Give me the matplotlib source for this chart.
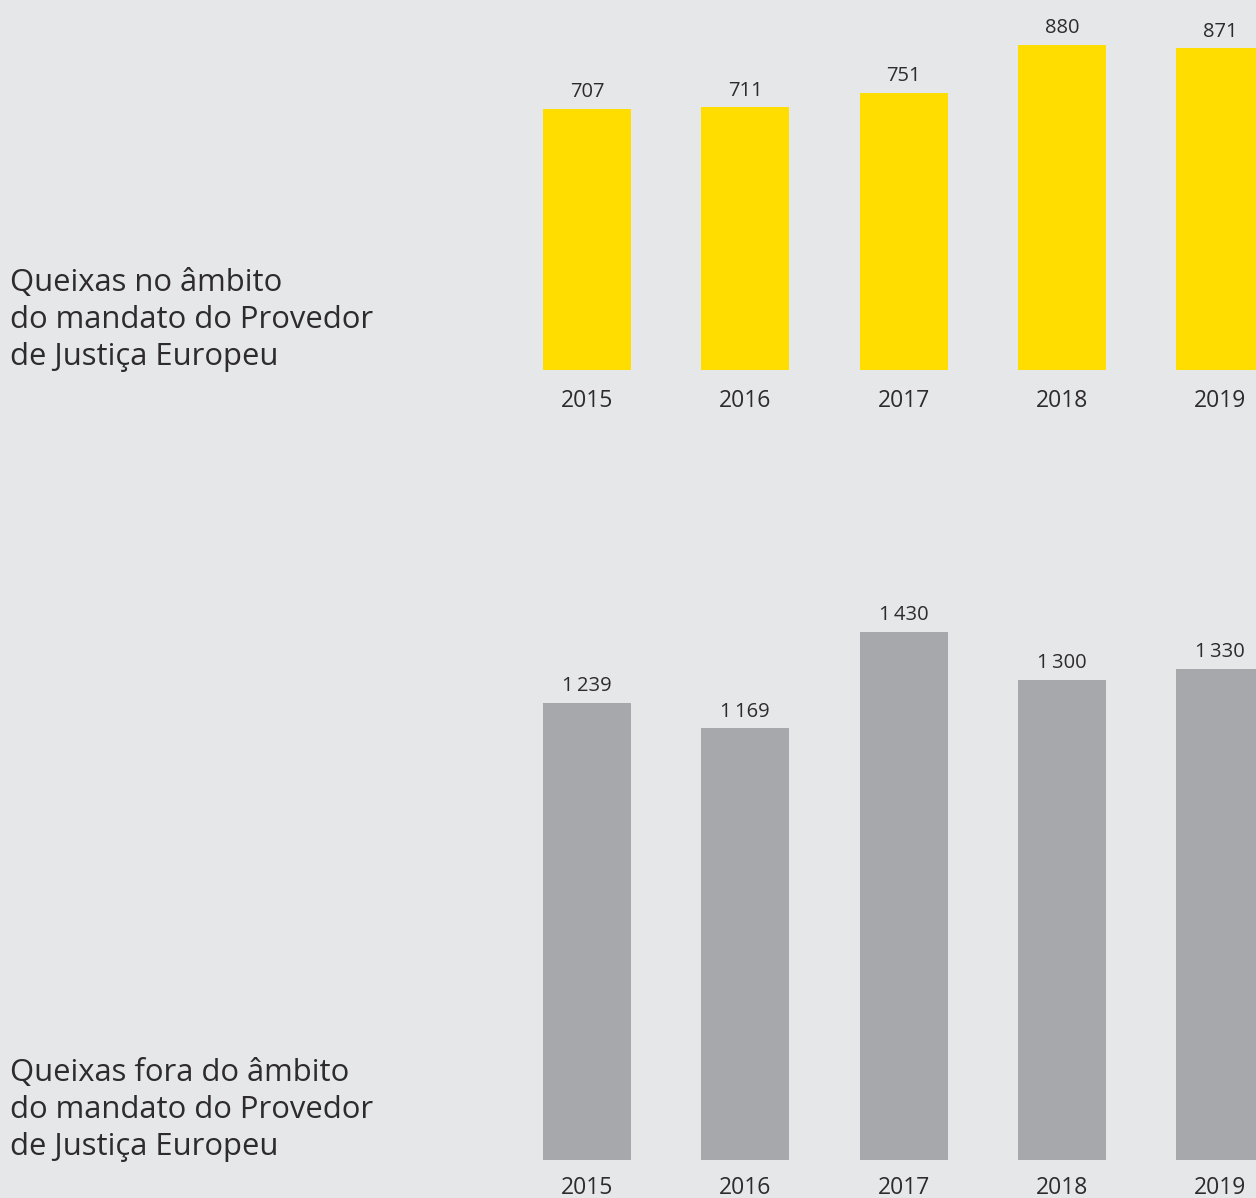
import matplotlib.pyplot as plt

years = ["2015", "2016", "2017", "2018", "2019"]
inside_mandate = [707, 711, 751, 880, 871]
outside_mandate = [1239, 1169, 1430, 1300, 1330]
label_inside = "Queixas no âmbito\ndo mandato do Provedor\nde Justiça Europeu"
label_outside = "Queixas fora do âmbito\ndo mandato do Provedor\nde Justiça Europeu"

BG = "#e6e7e9"
YELLOW = "#ffdd00"
GREY = "#a7a8ab"
TEXT = "#2e2b2c"

plt.rcParams["font.family"] = ["Open Sans", "DejaVu Sans"]

W, H = 1256, 1198
fig = plt.figure(figsize=(W / 100, H / 100), dpi=100, facecolor=BG)

# pixel layout helpers
x0_px, step_px = 587, 158.3
ax_left_px = 440
px_per_unit = 0.3692


def fmt(v):
    return f"{v:,}".replace(",", "\u2009")


def make_panel(base_px, top_px, values, color, year_off):
    height_px = base_px - top_px
    ax = fig.add_axes([ax_left_px / W, (H - base_px) / H,
                       (W - ax_left_px) / W, height_px / H])
    ax.set_facecolor(BG)
    x = list(range(len(values)))
    ax.bar(x, values, width=88 / step_px, color=color)
    ax.set_xlim((ax_left_px - x0_px) / step_px, (W - x0_px) / step_px)
    ax.set_ylim(0, height_px / px_per_unit)
    for s in ax.spines.values():
        s.set_visible(False)
    ax.set_xticks([])
    ax.set_yticks([])
    for i, v in zip(x, values):
        ax.annotate(fmt(v), xy=(i, v), xytext=(0, 12), textcoords="offset points",
                    ha="center", va="center", fontsize=14.5, color=TEXT)
        ax.annotate(years[i], xy=(i, 0), xycoords=("data", "axes fraction"),
                    xytext=(0, year_off), textcoords="offset points",
                    ha="center", va="center", fontsize=16.5, color=TEXT,
                    annotation_clip=False)
    return ax


make_panel(370, 0, inside_mandate, YELLOW, -22.3)
make_panel(1160, 560, outside_mandate, GREY, -20.3)

fig.text(10 / W, 1 - 320 / H, label_inside, ha="left", va="center",
         fontsize=22.3, color=TEXT, linespacing=1.32)
fig.text(10 / W, 1 - 1110 / H, label_outside, ha="left", va="center",
         fontsize=22.3, color=TEXT, linespacing=1.32)

fig.savefig("out.png", dpi=100, facecolor=BG)
